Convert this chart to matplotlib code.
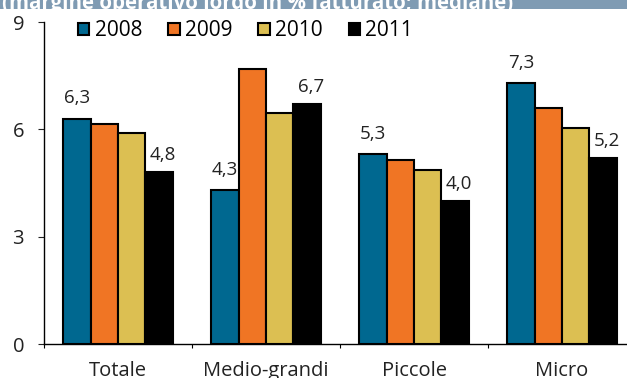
import matplotlib
matplotlib.use("Agg")
import matplotlib.pyplot as plt
from matplotlib.patches import Patch, Rectangle
import numpy as np

plt.rcParams['font.family'] = ['Open Sans', 'DejaVu Sans']

categories = ["Totale", "Medio-grandi", "Piccole", "Micro"]
years = ["2008", "2009", "2010", "2011"]
values = {
    "2008": [6.3, 4.3, 5.3, 7.3],
    "2009": [6.15, 7.7, 5.15, 6.6],
    "2010": [5.9, 6.45, 4.85, 6.05],
    "2011": [4.8, 6.7, 4.0, 5.2],
}
labelled_years = ["2008", "2011"]
colors = {"2008": "#006890", "2009": "#f07524", "2010": "#dcbf52", "2011": "#000000"}
title = "(margine operativo lordo in % fatturato; mediane)"

W, H = 627, 378
fig = plt.figure(figsize=(W / 100, H / 100), dpi=100)

# header band
fig.patches.append(Rectangle((0, 1 - 9 / H), 1, 9 / H, transform=fig.transFigure,
                             facecolor="#7f9bb3", edgecolor="none", zorder=0))
fig.text(2 / W, 1 - 3 / H, title, color="white", fontsize=14.8, fontweight="bold",
         ha="left", va="center")

left, right, top, bottom = 44, 636, 22, 344
ax = fig.add_axes([left / W, 1 - bottom / H, (right - left) / W, (bottom - top) / H])

x = np.arange(len(categories))
bw = 0.185
offsets = (np.arange(len(years)) - 1.5) * bw
for i, yr in enumerate(years):
    bars = ax.bar(x + offsets[i], values[yr], width=bw, color=colors[yr],
                  edgecolor="black", linewidth=1.5, label=yr, zorder=3)
    if yr in labelled_years:
        dx, dy = (0, 11) if yr == "2008" else (3, 8.5)
        for b, v in zip(bars, values[yr]):
            ax.annotate(f"{v:.1f}".replace(".", ","), (b.get_x() + b.get_width() / 2, v),
                        xytext=(dx, dy), textcoords="offset points",
                        ha="center", va="baseline", fontsize=13.5, color="#222222")

ax.set_xlim(-0.5, len(categories) - 0.5)
ax.set_ylim(0, 9)
ax.set_yticks([0, 3, 6, 9])
ax.set_yticklabels(["0", "3", "6", "9"], fontsize=14.5)
ax.tick_params(axis="y", length=4.3, width=0.8, pad=10, direction="out", colors="#222222")

ax.set_xticks(np.arange(len(categories) + 1) - 0.5)
ax.set_xticklabels([])
ax.tick_params(axis="x", which="major", length=3, width=0.8, direction="out")
ax.set_xticks(x, minor=True)
ax.set_xticklabels(categories, minor=True, fontsize=14.5, color="#222222")
ax.tick_params(axis="x", which="minor", length=0, pad=12)

for s in ["top", "right"]:
    ax.spines[s].set_visible(False)
for s in ["left", "bottom"]:
    ax.spines[s].set_linewidth(1.0)

handles = [Patch(facecolor=colors[y], edgecolor="black", linewidth=1.5) for y in years]
ax.legend(handles, years, loc="center left", bbox_to_anchor=(78 / W, 1 - 31 / H),
          bbox_transform=fig.transFigure, ncol=4, frameon=False, fontsize=15,
          handlelength=0.55, handleheight=0.55, handletextpad=0.25, columnspacing=1.25,
          borderpad=0, borderaxespad=0)

fig.savefig("out.png", dpi=100)
